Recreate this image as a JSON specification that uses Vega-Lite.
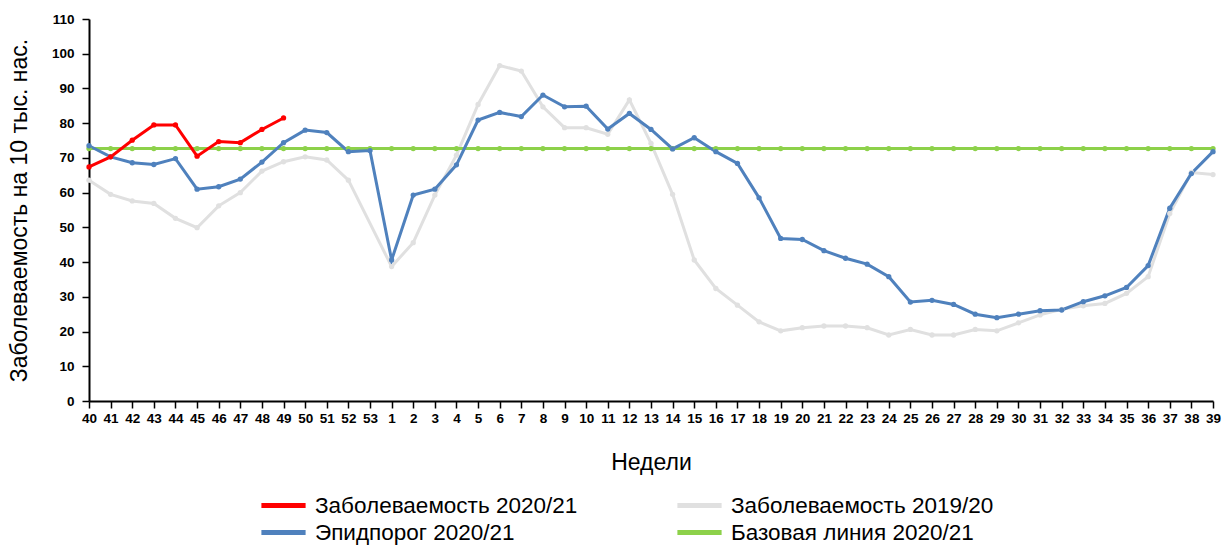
{
  "$schema": "https://vega.github.io/schema/vega-lite/v6.json",
  "width": 1124,
  "height": 382,
  "autosize": {"type": "none"},
  "padding": {"left": 89, "top": 19, "right": 10, "bottom": 144},
  "background": "white",
  "config": {
    "font": "Liberation Sans",
    "view": {"stroke": null}
  },
  "data": {
    "values": [
      {"w": "40", "inc20": 63.6, "base": 72.7, "thr": 73.5, "inc21": 67.4},
      {"w": "41", "inc20": 59.5, "base": 72.7, "thr": 70.3, "inc21": 70.3},
      {"w": "42", "inc20": 57.6, "base": 72.7, "thr": 68.6, "inc21": 75.1},
      {"w": "43", "inc20": 56.9, "base": 72.7, "thr": 68.1, "inc21": 79.5},
      {"w": "44", "inc20": 52.6, "base": 72.7, "thr": 69.8, "inc21": 79.5},
      {"w": "45", "inc20": 49.9, "base": 72.7, "thr": 61.0, "inc21": 70.5},
      {"w": "46", "inc20": 56.2, "base": 72.7, "thr": 61.7, "inc21": 74.7},
      {"w": "47", "inc20": 60.0, "base": 72.7, "thr": 63.9, "inc21": 74.4},
      {"w": "48", "inc20": 66.2, "base": 72.7, "thr": 68.8, "inc21": 78.2},
      {"w": "49", "inc20": 68.9, "base": 72.7, "thr": 74.4, "inc21": 81.5},
      {"w": "50", "inc20": 70.3, "base": 72.7, "thr": 78.0, "inc21": null},
      {"w": "51", "inc20": 69.4, "base": 72.7, "thr": 77.3, "inc21": null},
      {"w": "52", "inc20": 63.6, "base": 72.7, "thr": 71.8, "inc21": null},
      {"w": "53", "inc20": null, "base": 72.7, "thr": 72.1, "inc21": null},
      {"w": "1", "inc20": 38.7, "base": 72.7, "thr": 40.6, "inc21": null},
      {"w": "2", "inc20": 45.6, "base": 72.7, "thr": 59.3, "inc21": null},
      {"w": "3", "inc20": 59.3, "base": 72.7, "thr": 61.0, "inc21": null},
      {"w": "4", "inc20": 70.8, "base": 72.7, "thr": 68.0, "inc21": null},
      {"w": "5", "inc20": 85.4, "base": 72.7, "thr": 80.9, "inc21": null},
      {"w": "6", "inc20": 96.6, "base": 72.7, "thr": 83.1, "inc21": null},
      {"w": "7", "inc20": 95.0, "base": 72.7, "thr": 81.9, "inc21": null},
      {"w": "8", "inc20": 84.7, "base": 72.7, "thr": 88.1, "inc21": null},
      {"w": "9", "inc20": 78.7, "base": 72.7, "thr": 84.7, "inc21": null},
      {"w": "10", "inc20": 78.7, "base": 72.7, "thr": 84.9, "inc21": null},
      {"w": "11", "inc20": 76.8, "base": 72.7, "thr": 78.3, "inc21": null},
      {"w": "12", "inc20": 86.7, "base": 72.7, "thr": 82.8, "inc21": null},
      {"w": "13", "inc20": 74.2, "base": 72.7, "thr": 78.2, "inc21": null},
      {"w": "14", "inc20": 59.5, "base": 72.7, "thr": 72.6, "inc21": null},
      {"w": "15", "inc20": 40.6, "base": 72.7, "thr": 75.8, "inc21": null},
      {"w": "16", "inc20": 32.4, "base": 72.7, "thr": 71.8, "inc21": null},
      {"w": "17", "inc20": 27.6, "base": 72.7, "thr": 68.4, "inc21": null},
      {"w": "18", "inc20": 22.8, "base": 72.7, "thr": 58.5, "inc21": null},
      {"w": "19", "inc20": 20.2, "base": 72.7, "thr": 46.8, "inc21": null},
      {"w": "20", "inc20": 21.1, "base": 72.7, "thr": 46.5, "inc21": null},
      {"w": "21", "inc20": 21.6, "base": 72.7, "thr": 43.3, "inc21": null},
      {"w": "22", "inc20": 21.6, "base": 72.7, "thr": 41.1, "inc21": null},
      {"w": "23", "inc20": 21.1, "base": 72.7, "thr": 39.4, "inc21": null},
      {"w": "24", "inc20": 19.0, "base": 72.7, "thr": 35.8, "inc21": null},
      {"w": "25", "inc20": 20.6, "base": 72.7, "thr": 28.5, "inc21": null},
      {"w": "26", "inc20": 19.0, "base": 72.7, "thr": 29.0, "inc21": null},
      {"w": "27", "inc20": 19.0, "base": 72.7, "thr": 27.8, "inc21": null},
      {"w": "28", "inc20": 20.6, "base": 72.7, "thr": 25.0, "inc21": null},
      {"w": "29", "inc20": 20.2, "base": 72.7, "thr": 24.0, "inc21": null},
      {"w": "30", "inc20": 22.5, "base": 72.7, "thr": 25.0, "inc21": null},
      {"w": "31", "inc20": 24.8, "base": 72.7, "thr": 26.0, "inc21": null},
      {"w": "32", "inc20": 26.4, "base": 72.7, "thr": 26.2, "inc21": null},
      {"w": "33", "inc20": 27.4, "base": 72.7, "thr": 28.6, "inc21": null},
      {"w": "34", "inc20": 28.1, "base": 72.7, "thr": 30.3, "inc21": null},
      {"w": "35", "inc20": 31.0, "base": 72.7, "thr": 32.7, "inc21": null},
      {"w": "36", "inc20": 35.8, "base": 72.7, "thr": 39.0, "inc21": null},
      {"w": "37", "inc20": 54.0, "base": 72.7, "thr": 55.5, "inc21": null},
      {"w": "38", "inc20": 65.8, "base": 72.7, "thr": 65.5, "inc21": null},
      {"w": "39", "inc20": 65.2, "base": 72.7, "thr": 71.8, "inc21": null}
    ]
  },
  "transform": [
    {"fold": ["inc20", "base", "thr", "inc21"], "as": ["key", "v"]},
    {"filter": "datum.v != null"}
  ],
  "mark": {
    "type": "line",
    "strokeWidth": 3,
    "point": {"filled": true, "size": 28, "shape": "circle"}
  },
  "encoding": {
    "x": {
      "field": "w",
      "type": "ordinal",
      "scale": {
        "type": "point",
        "padding": 0,
        "domain": ["40","41","42","43","44","45","46","47","48","49","50","51","52","53","1","2","3","4","5","6","7","8","9","10","11","12","13","14","15","16","17","18","19","20","21","22","23","24","25","26","27","28","29","30","31","32","33","34","35","36","37","38","39"]
      },
      "axis": {
        "title": "Недели",
        "titleFontSize": 23,
        "titleFontWeight": "normal",
        "titleColor": "black",
        "titlePadding": 27,
        "labelAngle": 0,
        "labelFontSize": 13.5,
        "labelFontWeight": "bold",
        "labelColor": "black",
        "labelOverlap": false,
        "labelPadding": 3,
        "tickColor": "black",
        "tickSize": 7,
        "tickWidth": 1.5,
        "domainColor": "black",
        "domainWidth": 2,
        "grid": false
      }
    },
    "y": {
      "field": "v",
      "type": "quantitative",
      "scale": {"domain": [0, 110], "nice": false},
      "axis": {
        "title": "Заболеваемость на 10 тыс. нас.",
        "titleFontSize": 23,
        "titleFontWeight": "normal",
        "titleColor": "black",
        "titlePadding": 20,
        "values": [0,10,20,30,40,50,60,70,80,90,100,110],
        "labelFontSize": 13.5,
        "labelFontWeight": "bold",
        "labelColor": "black",
        "labelPadding": 8,
        "tickColor": "black",
        "tickSize": 7,
        "tickWidth": 1.5,
        "domainColor": "black",
        "domainWidth": 2,
        "grid": false
      }
    },
    "color": {
      "field": "key",
      "type": "nominal",
      "scale": {
        "domain": ["inc21", "inc20", "thr", "base"],
        "range": ["#ff0000", "#e0e0e0", "#4f81bd", "#8dd14a"]
      },
      "legend": {
        "title": null,
        "orient": "none",
        "legendX": 179,
        "legendY": 471,
        "columns": 2,
        "direction": "horizontal",
        "symbolType": "M-1.7,0H1.7",
        "symbolSize": 676,
        "symbolStrokeWidth": 5,
        "labelFontSize": 22.5,
        "labelColor": "black",
        "labelOffset": 16,
        "labelLimit": 400,
        "columnPadding": 89,
        "rowPadding": 0,
        "labelExpr": "datum.value == 'inc21' ? 'Заболеваемость 2020/21' : datum.value == 'inc20' ? 'Заболеваемость 2019/20' : datum.value == 'thr' ? 'Эпидпорог 2020/21' : 'Базовая линия 2020/21'"
      }
    }
  }
}
